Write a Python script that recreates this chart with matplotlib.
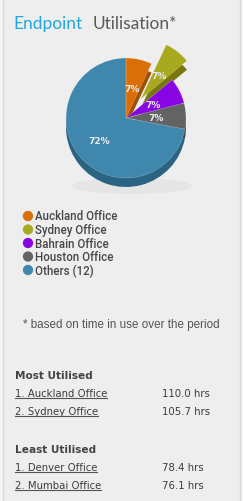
import matplotlib
matplotlib.use("Agg")
import matplotlib.pyplot as plt
from matplotlib.patches import Ellipse, Rectangle
from matplotlib.lines import Line2D
from matplotlib.transforms import IdentityTransform

W, H = 243, 502

# data
offices = ["Auckland Office", "Sydney Office", "Bahrain Office", "Houston Office", "Others (12)"]
shares = [7, 7, 7, 7, 72]
colors = ["#d96f06", "#a9a91f", "#8a05e4", "#636363", "#3f87ad"]
side_colors = ["#9e4f03", "#77770f", "#5e029c", "#424242", "#2b6482"]
explode = [0, 0.4, 0, 0, 0]

most_names = ["1. Auckland Office", "2. Sydney Office"]
most_hours = [110.0, 105.7]
least_names = ["1. Denver Office", "2. Mumbai Office"]
least_hours = [78.4, 76.1]

fig = plt.figure(figsize=(W / 100, H / 100), dpi=100)
fig.patch.set_facecolor("#f5f5f5")
ax = fig.add_axes([0, 0, 1, 1])


def Y(y):
    return H - y


# panel with side borders
ax.add_patch(Rectangle((3, 0), 237, H, facecolor="#eeeeee", edgecolor="none", zorder=0))
ax.plot([3, 3], [0, H], color="#d8d8d8", lw=1, zorder=1)
ax.plot([240, 240], [0, H], color="#d8d8d8", lw=1, zorder=1)

# title
t1 = ax.text(13, Y(24), "Endpoint", color="#21a7de", fontsize=12.5,
             family="Lato", va="center", ha="left")
fig.canvas.draw()
r = fig.canvas.get_renderer()
bb = t1.get_window_extent(r)
ax.text(bb.x1 + 3, Y(24), "Utilisation*", color="#5a5a5a", fontsize=12.5,
        family="Lato", va="center", ha="left")

# pie: shadow, side, top
cx, cy, rad = 126, Y(119), 60
ex = [e * rad for e in explode]
ax.add_patch(Ellipse((cx + 6, cy - 68), 120, 16, facecolor="#e5e5e5", edgecolor="none", zorder=1))
ax.pie(shares, colors=side_colors, startangle=90, counterclock=False, explode=ex,
       center=(cx, cy - 9), radius=rad, frame=True,
       wedgeprops=dict(linewidth=0, zorder=2))
wedges, _, autotexts = ax.pie(shares, colors=colors, startangle=90, counterclock=False,
                              explode=ex, center=(cx, cy), radius=rad, frame=True,
                              autopct="%d%%", pctdistance=0.5,
                              wedgeprops=dict(linewidth=0.4, edgecolor="#ffffff55", zorder=3),
                              textprops=dict(color="#e8ecef", fontsize=6.5, weight="bold",
                                             family="DejaVu Sans"))
for at in autotexts:
    at.set_zorder(4)
# push the big label a bit further out
x0, y0 = autotexts[-1].get_position()
autotexts[-1].set_position((cx + (x0 - cx) * 1.16, cy + (y0 - cy) * 1.16))

# legend
for i, (name, c) in enumerate(zip(offices, colors)):
    yy = Y(217 + i * 13.5)
    ax.scatter([28], [yy], s=55, color=c, edgecolors="none", zorder=3)
    ax.text(35, yy, name, fontsize=8.3, family="Roboto", weight="medium",
            color="#474747", va="center", ha="left")

ax.text(23, Y(325), "* based on time in use over the period", fontsize=8.4,
        family="Liberation Sans", color="#555555", va="center", ha="left")

# ranking lists
links = []


def block(top, title, names, hours):
    ax.text(15, Y(top), title, fontsize=7.6, family="DejaVu Sans", weight="bold",
            color="#444444", va="center", ha="left")
    for j, (n, h) in enumerate(zip(names, hours)):
        yy = Y(top + 18 * (j + 1))
        links.append(ax.text(15, yy, n, fontsize=7.3, family="DejaVu Sans",
                             color="#3c3c3c", va="center", ha="left"))
        ax.text(162, yy, f"{h:.1f} hrs", fontsize=7.3, family="DejaVu Sans",
                color="#3c3c3c", va="center", ha="left")


block(376, "Most Utilised", most_names, most_hours)
block(450, "Least Utilised", least_names, least_hours)

ax.set_xlim(0, W)
ax.set_ylim(0, H)
ax.set_aspect("auto")
ax.axis("off")

fig.canvas.draw()
r = fig.canvas.get_renderer()
for t in links:
    b = t.get_window_extent(r)
    fig.add_artist(Line2D([b.x0, b.x1], [b.y0 + 0.5, b.y0 + 0.5], color="#555555",
                          lw=0.8, transform=IdentityTransform()))

fig.savefig("out.png", dpi=100, facecolor=fig.get_facecolor())
